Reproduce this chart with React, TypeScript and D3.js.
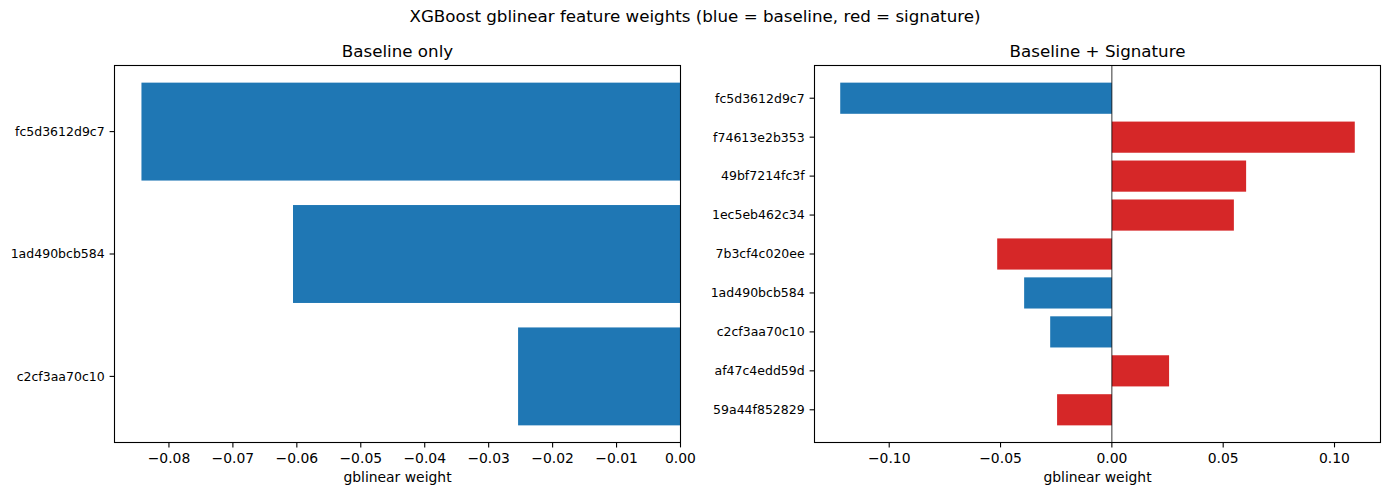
import React from "react";
import * as d3 from "d3";

const suptitle = "XGBoost gblinear feature weights (blue = baseline, red = signature)";

const leftTitle = "Baseline only";
const baselineFeatures = ["fc5d3612d9c7", "1ad490bcb584", "c2cf3aa70c10"];
const baselineWeights = [-0.0843, -0.0606, -0.0254];
const baselineTicks = [-0.08, -0.07, -0.06, -0.05, -0.04, -0.03, -0.02, -0.01, 0.0];

const rightTitle = "Baseline + Signature";
const combinedFeatures = [
  "fc5d3612d9c7",
  "f74613e2b353",
  "49bf7214fc3f",
  "1ec5eb462c34",
  "7b3cf4c020ee",
  "1ad490bcb584",
  "c2cf3aa70c10",
  "af47c4edd59d",
  "59a44f852829",
];
const combinedWeights = [-0.122, 0.1091, 0.0603, 0.0548, -0.0515, -0.0394, -0.0277, 0.0257, -0.0246];
const combinedIsSignature = [false, true, true, true, true, false, false, true, true];
const combinedTicks = [-0.1, -0.05, 0.0, 0.05, 0.1];

const xLabel = "gblinear weight";

const BLUE = "#1f77b4";
const RED = "#d62728";
const FONT = "DejaVu Sans, sans-serif";

const W = 1390;
const H = 495;
const TOP = 65.5;
const BOTTOM = 442.5;

function fmt(v: number) {
  const s = Math.abs(v).toFixed(2);
  return v < -1e-9 ? "\u2212" + s : s;
}

function domainFor(values: number[]): [number, number] {
  const lo = Math.min(0, d3.min(values)!);
  const hi = Math.max(0, d3.max(values)!);
  const span = hi - lo;
  return [lo < 0 ? lo - 0.05 * span : 0, hi > 0 ? hi + 0.05 * span : 0];
}

function Panel(props: {
  x0: number;
  x1: number;
  title: string;
  features: string[];
  weights: number[];
  colors: string[];
  ticks: number[];
  zeroLine: boolean;
}) {
  const { x0, x1, title, features, weights, colors, ticks, zeroLine } = props;
  const n = features.length;
  const x = d3.scaleLinear().domain(domainFor(weights)).range([x0, x1]);
  const y = d3
    .scaleLinear()
    .domain([-0.4 - 0.05 * (n - 0.2), n - 1 + 0.4 + 0.05 * (n - 0.2)])
    .range([TOP, BOTTOM]);
  const bh = y(0.4) - y(-0.4);
  return (
    <g>
      {weights.map((w, i) => (
        <rect
          key={i}
          x={Math.min(x(0), x(w))}
          y={y(i) - bh / 2}
          width={Math.abs(x(w) - x(0))}
          height={bh}
          fill={colors[i]}
        />
      ))}
      {zeroLine && (
        <line x1={x(0)} x2={x(0)} y1={TOP} y2={BOTTOM} stroke="#000" strokeWidth={0.8} />
      )}
      <rect x={x0} y={TOP} width={x1 - x0} height={BOTTOM - TOP} fill="none" stroke="#000" strokeWidth={1.1} />
      {ticks.map((t, i) => (
        <g key={i}>
          <line x1={x(t)} x2={x(t)} y1={BOTTOM} y2={BOTTOM + 4.9} stroke="#000" strokeWidth={1.1} />
          <text x={x(t)} y={BOTTOM + 20.5} textAnchor="middle" fontSize={13.9} fontFamily={FONT} fill="#000">
            {fmt(t)}
          </text>
        </g>
      ))}
      {features.map((f, i) => (
        <g key={i}>
          <line x1={x0 - 4.9} x2={x0} y1={y(i)} y2={y(i)} stroke="#000" strokeWidth={1.1} />
          <text
            x={x0 - 9.8}
            y={y(i)}
            dy="0.35em"
            textAnchor="end"
            fontSize={12.5}
            fontFamily={FONT}
            fill="#000"
          >
            {f}
          </text>
        </g>
      ))}
      <text x={(x0 + x1) / 2} y={TOP - 8.5} textAnchor="middle" fontSize={16.7} fontFamily={FONT} fill="#000">
        {title}
      </text>
      <text x={(x0 + x1) / 2} y={482} textAnchor="middle" fontSize={13.9} fontFamily={FONT} fill="#000">
        {xLabel}
      </text>
    </g>
  );
}

export default function App() {
  return (
    <svg width={W} height={H} style={{ display: "block", position: "absolute", left: 0, top: 0 }}>
      <rect width={W} height={H} fill="#fff" />
      <text x={695} y={22} textAnchor="middle" fontSize={16.7} fontFamily={FONT} fill="#000">
        {suptitle}
      </text>
      <Panel
        x0={114.5}
        x1={680.5}
        title={leftTitle}
        features={baselineFeatures}
        weights={baselineWeights}
        colors={baselineFeatures.map(() => BLUE)}
        ticks={baselineTicks}
        zeroLine={false}
      />
      <Panel
        x0={814.5}
        x1={1380.5}
        title={rightTitle}
        features={combinedFeatures}
        weights={combinedWeights}
        colors={combinedIsSignature.map((s) => (s ? RED : BLUE))}
        ticks={combinedTicks}
        zeroLine={true}
      />
    </svg>
  );
}
